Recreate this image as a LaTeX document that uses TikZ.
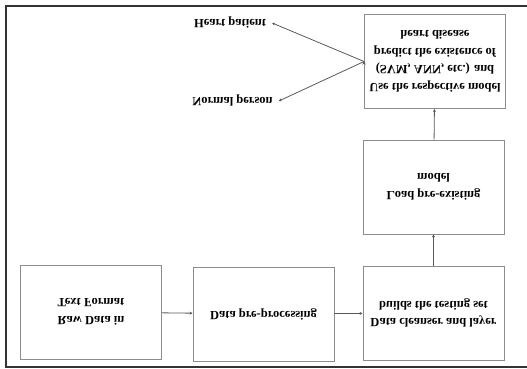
\documentclass[tikz,border=0pt]{standalone}
\usepackage{fontspec}
\setmainfont{Liberation Serif}
\usetikzlibrary{
arrows.meta,
positioning
}

\begin{document}
\begin{tikzpicture}[x=1pt,y=-1pt,
    stage/.style={draw=black!45,line width=0.9pt,yscale=-1,minimum width=141pt,minimum height=94pt,
      align=center,font=\bfseries\fontsize{12.5}{17.5}\selectfont},
    outcome/.style={yscale=-1,inner xsep=6pt,font=\bfseries\fontsize{12.5}{14}\selectfont},
    flow/.style={draw=black!65,line width=0.8pt,-{Stealth[length=3pt,width=3pt]}}]
      \useasboundingbox (0,0) rectangle (527,369);
      % frame
      \draw[black!80,line width=1.5pt] (527,6) -- (6,6) -- (6,367) -- (527,367);

      \node[stage] (raw) at (91,312) {Raw Data in\\Text Format};
      \node[stage] (prep) at (263.5,314) {Data pre-processing};
      \node[stage] (clean) at (433.5,313) {Data cleanser and layer\\builds the testing set};
      \node[stage] (load) at (433.5,187) {Load pre-existing\\model};
      \node[stage] (use) at (435,61.5) {Use the respective model\\(SVM, ANN, etc.) and\\predict the existence of\\heart disease};

      \node[outcome] (heart) at (230,23) {Heart patient};
      \node[outcome] (normal) at (232.5,101) {Normal person};

      \path[flow] (raw) edge (prep);
      \path[flow] (prep) edge (clean);
      \path[flow] (clean) edge (load);
      \path[flow] (load) edge (use);
      \path[flow] (use.west) edge (heart.east);
      \path[flow] (use.west) edge (normal.east);
\end{tikzpicture}
\end{document}
